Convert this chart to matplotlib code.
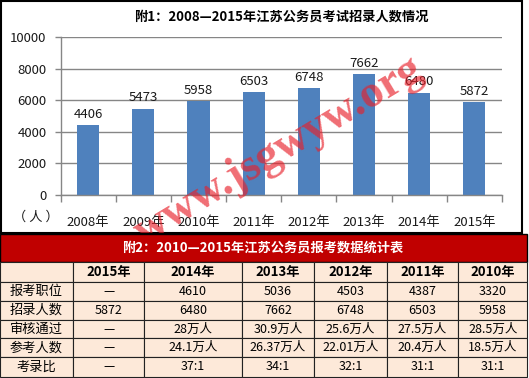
import matplotlib
matplotlib.use("Agg")
import matplotlib.pyplot as plt
from matplotlib.patches import Rectangle

plt.rcParams['font.family'] = ['Noto Sans CJK SC', 'DejaVu Sans']

# ---- chart data ----
years = ['2008年', '2009年', '2010年', '2011年', '2012年', '2013年', '2014年', '2015年']
hires = [4406, 5473, 5958, 6503, 6748, 7662, 6480, 5872]
y_ticks = [0, 2000, 4000, 6000, 8000, 10000]

# ---- table data ----
table_title = '附2：2010—2015年江苏公务员报考数据统计表'
col_years = ['2015年', '2014年', '2013年', '2012年', '2011年', '2010年']
row_names = ['报考职位', '招录人数', '审核通过', '参考人数', '考录比']
row_positions = ['—', '4610', '5036', '4503', '4387', '3320']
row_hires = ['5872', '6480', '7662', '6748', '6503', '5958']
row_passed = ['—', '28万人', '30.9万人', '25.6万人', '27.5万人', '28.5万人']
row_takers = ['—', '24.1万人', '26.37万人', '22.01万人', '20.4万人', '18.5万人']
row_ratio = ['—', '37:1', '34:1', '32:1', '31:1', '31:1']

W, H = 529, 378
CHART_H = 233
BAR = '#4F81BD'
GRID = '#868686'
RED = '#C00000'
CELL = '#FDE9D9'

fig = plt.figure(figsize=(W / 100, H / 100), dpi=100)

# overlay axes in pixel coords for borders / table
bg = fig.add_axes([0, 0, 1, 1])
bg.set_xlim(0, W)
bg.set_ylim(H, 0)
bg.axis('off')

# chart frame
bg.add_patch(Rectangle((0.8, 0.8), 521, CHART_H - 1, fill=False, ec='black', lw=1.5))

# ---- bar chart ----
ax = fig.add_axes([60.5 / W, 1 - 195 / H, 441.5 / W, 158 / H])
x = range(len(years))
bars = ax.bar(x, hires, width=0.4, color=BAR, zorder=2)
ax.bar_label(bars, padding=3, fontsize=9.5, color='#1a1a1a')
ax.set_xlim(-0.5, len(years) - 0.5)
ax.set_ylim(0, 10000)
ax.set_yticks(y_ticks)
ax.set_yticklabels([str(v) for v in y_ticks], fontsize=9.5, color='#1a1a1a')
ax.set_xticks(list(x))
ax.set_xticklabels(years, fontsize=9.5, color='#1a1a1a')
ax.tick_params(axis='x', length=0, pad=15)
ax.set_xticks([i - 0.5 for i in range(len(years) + 1)], minor=True)
ax.tick_params(axis='x', which='minor', length=5, color=GRID, width=1)
ax.tick_params(axis='y', length=4, color=GRID, width=1, pad=6)
ax.grid(axis='y', color=GRID, lw=1, zorder=1)
for s in ['top', 'right']:
    ax.spines[s].set_visible(False)
for s in ['left', 'bottom']:
    ax.spines[s].set_color(GRID)
    ax.spines[s].set_linewidth(1)
ax.set_title('附1：2008—2015年江苏公务员考试招录人数情况', fontsize=9.5,
             fontweight='bold', pad=12)
fig.text(36 / W, 1 - 217 / H, '（ 人 ）', fontsize=9.5, ha='center', va='center',
         color='#1a1a1a')

# ---- table ----
col_edges = [0, 72.7, 144.3, 242, 314, 386.7, 458.3, 527.3]
row_edges = [262, 281.7, 300.7, 320, 338.3, 357.3, 376.7]

bg.add_patch(Rectangle((0, 234), col_edges[-1], 28, fc=RED, ec='black', lw=1))
bg.text(263, 248, table_title, color='white', fontsize=9.5, fontweight='bold',
        ha='center', va='center')

rows = [[''] + col_years]
for name, vals in zip(row_names, [row_positions, row_hires, row_passed,
                                  row_takers, row_ratio]):
    rows.append([name] + vals)

for r, row in enumerate(rows):
    y0, y1 = row_edges[r], row_edges[r + 1]
    for c, txt in enumerate(row):
        x0, x1 = col_edges[c], col_edges[c + 1]
        bg.add_patch(Rectangle((x0, y0), x1 - x0, y1 - y0, fc=CELL,
                               ec='#222222', lw=0.8))
        bold = (r == 0)
        size = 9.5 if (c == 0 or r == 0) else 9
        bg.text((x0 + x1) / 2, (y0 + y1) / 2, txt, fontsize=size,
                fontweight='bold' if bold else 'normal', ha='center',
                va='center', color='black')

# ---- watermark (top layer, clipped to the chart picture) ----
wm = fig.add_axes([0, 1 - CHART_H / H, 1, CHART_H / H], zorder=10)
wm.set_xlim(0, W)
wm.set_ylim(CHART_H, 0)
wm.axis('off')
wm.patch.set_alpha(0)
wm.text(144, 245, 'www.jsgwyw.org', fontsize=33, fontweight='bold',
        family='Liberation Serif', color='#E8202A', alpha=0.65, rotation=31,
        ha='left', va='baseline', rotation_mode='anchor', clip_on=True)

fig.savefig('out.png', dpi=100)
